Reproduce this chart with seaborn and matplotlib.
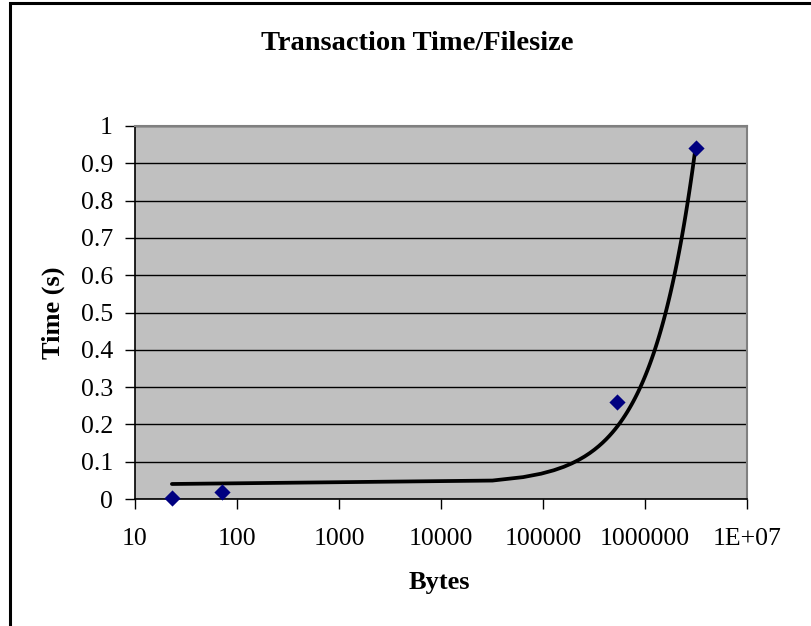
import matplotlib
matplotlib.use("Agg")
import matplotlib.pyplot as plt
from matplotlib.ticker import FixedLocator, NullLocator, FixedFormatter
from matplotlib.patches import Rectangle
import numpy as np
import pandas as pd
import seaborn as sns

# values
file_bytes = [23, 71, 527000, 3160000]
time_s = [0.004, 0.02, 0.26, 0.94]
x_ticks = [10, 100, 1000, 10000, 100000, 1000000, 10000000]
x_tick_labels = ["10", "100", "1000", "10000", "100000", "1000000", "1E+07"]
y_ticks = [0, 0.1, 0.2, 0.3, 0.4, 0.5, 0.6, 0.7, 0.8, 0.9, 1]
y_tick_labels = ["0", "0.1", "0.2", "0.3", "0.4", "0.5", "0.6", "0.7", "0.8", "0.9", "1"]

df = pd.DataFrame({"Bytes": file_bytes, "Time": time_s})

sns.set_style("ticks")
plt.rcParams["font.family"] = ["Liberation Serif", "DejaVu Serif"]
plt.rcParams["text.color"] = "black"
plt.rcParams["axes.labelcolor"] = "black"

fig = plt.figure(figsize=(8.11, 6.26), dpi=100)
ax = fig.add_axes([135 / 811, 1 - 499 / 626, 612 / 811, 373 / 626])
ax.set_facecolor("#C0C0C0")

# excel-style linear trendline drawn on a log axis
sns.regplot(data=df, x="Bytes", y="Time", ax=ax, ci=None, truncate=True,
            marker="D",
            scatter_kws={"color": "#000080", "s": 68, "zorder": 4,
                         "linewidths": 0, "alpha": 1, "clip_on": False},
            line_kws={"color": "black", "lw": 2.7, "zorder": 3})

ax.set_xscale("log")
ax.set_xlim(10, 1e7)
ax.set_ylim(0, 1)
ax.xaxis.set_major_locator(FixedLocator(x_ticks))
ax.xaxis.set_major_formatter(FixedFormatter(x_tick_labels))
ax.xaxis.set_minor_locator(NullLocator())
ax.yaxis.set_major_locator(FixedLocator(y_ticks))
ax.yaxis.set_major_formatter(FixedFormatter(y_tick_labels))

ax.yaxis.grid(True, color="black", lw=1)
ax.xaxis.grid(False)
ax.set_axisbelow(True)

ax.tick_params(axis="both", labelsize=18.5, colors="black", direction="out",
               length=7, width=1)
ax.tick_params(axis="x", pad=14)
ax.tick_params(axis="y", pad=9)

for side in ["left", "bottom"]:
    ax.spines[side].set_color("black")
    ax.spines[side].set_linewidth(1.2)
for side in ["top", "right"]:
    ax.spines[side].set_visible(True)
    ax.spines[side].set_color("#808080")
    ax.spines[side].set_linewidth(1.5)

ax.set_title("Transaction Time/Filesize", fontsize=20.5, fontweight="bold",
             x=0.461, y=1.22, va="center", pad=0)
ax.set_xlabel("Bytes", fontsize=19, fontweight="bold", va="center")
ax.xaxis.set_label_coords(0.497, -0.225)
ax.set_ylabel("Time (s)", fontsize=19, fontweight="bold", va="center")
ax.yaxis.set_label_coords(-0.134, 0.5)

# chart area border
fig.add_artist(Rectangle((10 / 811, -0.1), 1.2, 1.1 - 3 / 626,
                         transform=fig.transFigure, fill=False,
                         edgecolor="black", lw=2.2, clip_on=False))

fig.savefig("out.png", dpi=100, facecolor="white")
